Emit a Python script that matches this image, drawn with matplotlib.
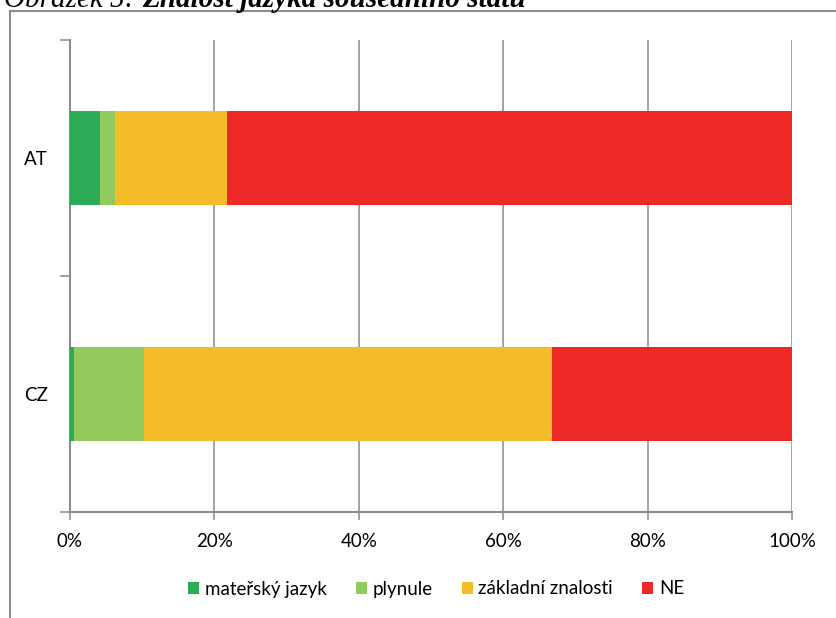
import matplotlib.pyplot as plt
from matplotlib.patches import Rectangle
from matplotlib.ticker import FuncFormatter
import numpy as np

# share of respondents per answer, in percent
countries = ["AT", "CZ"]
levels = ["mateřský jazyk", "plynule", "základní znalosti", "NE"]
materska = [4.2, 0.6]
plynule = [2.0, 9.7]
zakladni = [15.5, 56.4]
ne = [78.3, 33.3]

colors = ["#2DAB56", "#92CA5E", "#F5BC2A", "#EE2A28"]
GRAY = "#8C8C8C"
W, H = 837, 618

plt.rcParams['font.family'] = ['Lato', 'DejaVu Sans']

fig = plt.figure(figsize=(W / 100, H / 100), dpi=100)
ax = fig.add_axes([70 / W, (H - 512) / H, (792 - 70) / W, (512 - 40) / H])

# outer frame of the embedded chart, running off the right and bottom edge
fig.patches.append(Rectangle((10 / W, -0.1), 1.2, 1 - 11 / H + 0.1, transform=fig.transFigure,
                             fill=False, edgecolor=GRAY, linewidth=1.5))

y = np.arange(len(countries))
left = np.zeros(len(countries))
for vals, label, c in zip([materska, plynule, zakladni, ne], levels, colors):
    ax.barh(y, vals, left=left, height=0.4, color=c, label=label, zorder=3)
    left += np.array(vals)

ax.set_xlim(0, 100)
ax.set_ylim(-0.5, 1.5)
ax.invert_yaxis()

ax.set_xticks(np.arange(0, 101, 20))
ax.xaxis.set_major_formatter(FuncFormatter(lambda v, p: f"{v:.0f}%"))
ax.grid(axis='x', color=GRAY, linewidth=1.1, zorder=0)

# category boundaries get tick marks, names sit in between
ax.set_yticks([-0.5, 0.5, 1.5])
ax.set_yticklabels([])
ax.set_yticks(y, minor=True)
ax.set_yticklabels(countries, minor=True)
ax.tick_params(axis='y', which='major', length=7, width=1.1, color=GRAY)
ax.tick_params(axis='y', which='minor', length=0, pad=16, labelsize=13.5)
ax.tick_params(axis='x', length=6, width=1.1, color=GRAY, pad=9, labelsize=13.5)

for s in ['top', 'right']:
    ax.spines[s].set_visible(False)
for s in ['left', 'bottom']:
    ax.spines[s].set_color(GRAY)
    ax.spines[s].set_linewidth(1.5)

ax.legend(loc='center', bbox_to_anchor=(436 / W, 1 - 589 / H), bbox_transform=fig.transFigure,
          ncol=4, frameon=False, fontsize=13.5, handlelength=0.6, handleheight=0.6,
          handletextpad=0.3, columnspacing=1.55, borderpad=0)

# caption above the frame, partly cut by the top edge
t1 = fig.text(4 / W, 1 - 7 / H, "Obrázek 5: ", family='Liberation Serif', style='italic',
              fontsize=21, va='baseline', ha='left')
fig.canvas.draw()
bb = t1.get_window_extent()
fig.text(bb.x1 / W, 1 - 7 / H, "Znalost jazyka sousedního státu", family='Liberation Serif',
         style='italic', weight='bold', fontsize=21, va='baseline', ha='left')

fig.savefig("out.png", dpi=100)
